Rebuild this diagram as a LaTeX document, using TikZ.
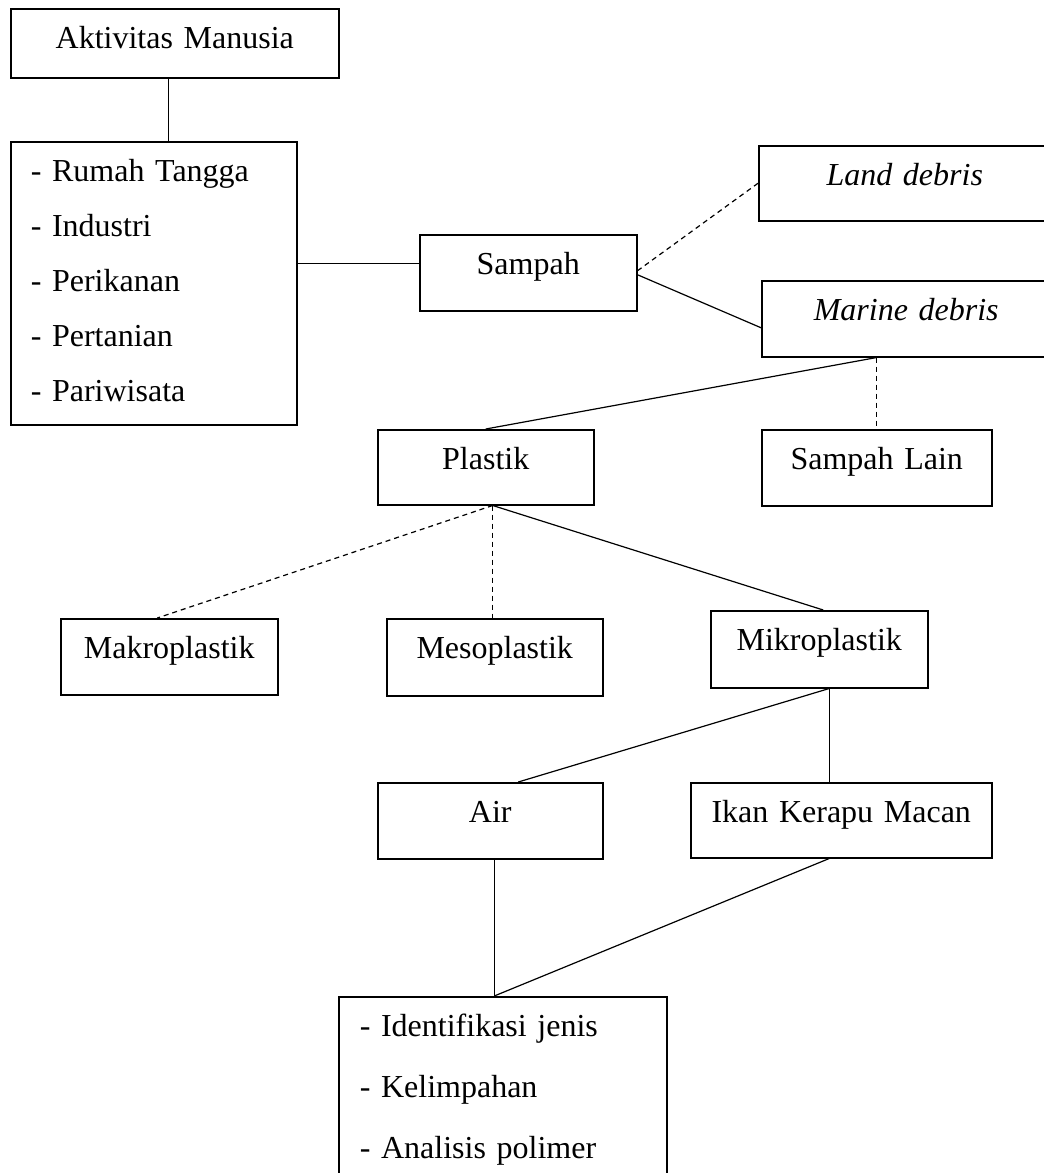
\documentclass[tikz,border=0pt]{standalone}
\usepackage{fontspec}
\setmainfont{Liberation Serif}
\usetikzlibrary{positioning}

\begin{document}
\begin{tikzpicture}[x=0.5pt, y=-0.5pt,
        kotak/.style={draw, line width=0.75pt, anchor=north west, inner xsep=0pt, inner ysep=0pt,
            align=center, text height=20pt, font=\fontsize{16pt}{19pt}\selectfont},
        daftar/.style={kotak, align=left, inner xsep=10pt, font=\fontsize{16pt}{27.5pt}\selectfont},
        garis/.style={line width=0.6pt},
        putus/.style={line width=0.6pt, dash pattern=on 2.5pt off 2pt}]
        \useasboundingbox (0,0) rectangle (1044,1173);
        \node[kotak, text width=164pt, text depth=14.5pt] (akt) at (10,8) {Aktivitas Manusia};
        \node[daftar, text width=123pt, text depth=121.5pt] (keg) at (10,141)
            {- Rumah Tangga\\- Industri\\- Perikanan\\- Pertanian\\- Pariwisata};
        \node[kotak, text width=108.5pt, text depth=18pt] (sampah) at (419,234) {Sampah};
        \node[kotak, text width=146pt, text depth=17.5pt] (land) at (758,145) {\textit{Land debris}};
        \node[kotak, text width=144.5pt, text depth=18pt] (marine) at (761,280) {\textit{Marine debris}};
        \node[kotak, text width=108pt, text depth=17.5pt] (plastik) at (377,429) {Plastik};
        \node[kotak, text width=115pt, text depth=18pt] (lain) at (761,429) {Sampah Lain};
        \node[kotak, text width=108.5pt, text depth=18pt] (makro) at (60,618) {Makroplastik};
        \node[kotak, text width=108pt, text depth=18.5pt] (meso) at (386,618) {Mesoplastik};
        \node[kotak, text width=108.5pt, text depth=18.5pt] (mikro) at (710,610) {Mikroplastik};
        \node[kotak, text width=112.5pt, text depth=18pt] (air) at (377,782) {Air};
        \node[kotak, text width=150.5pt, text depth=17.5pt] (ikan) at (690,782) {Ikan Kerapu Macan};
        \node[daftar, text width=143pt, inner xsep=10.5pt, text depth=77pt,
            font=\fontsize{16pt}{30.5pt}\selectfont] (hasil) at (338,996)
            {- Identifikasi jenis\\- Kelimpahan\\- Analisis polimer};

        % sumber sampah
        \draw[garis] ([xshift=-3pt]akt.south) -- ([xshift=-3pt]akt.south |- keg.north);
        \draw[garis] ([yshift=4.5pt]sampah.west -| keg.east) -- ([yshift=4.5pt]sampah.west);
        \draw[putus] ([yshift=1pt]sampah.east) -- (land.west);
        \draw[garis] ([yshift=-1pt]sampah.east) -- ([yshift=-4.5pt]marine.west);
        % jenis sampah
        \draw[garis] (lain.north |- marine.south) -- (plastik.north);
        \draw[putus] (lain.north |- marine.south) -- (lain.north);
        \draw[putus] ([xshift=3.5pt]plastik.south) -- ([xshift=-6pt]makro.north);
        \draw[putus] ([xshift=3.5pt]plastik.south) -- ([xshift=3.5pt]plastik.south |- meso.north);
        \draw[garis] ([xshift=3.5pt]plastik.south) -- ([xshift=2pt]mikro.north);
        % mikroplastik
        \draw[garis] ([xshift=5pt]mikro.south) -- ([xshift=14pt]air.north);
        \draw[garis] ([xshift=5pt]mikro.south) -- ([xshift=5pt]mikro.south |- ikan.north);
        \draw[garis] ([xshift=2pt]air.south) -- ([xshift=2pt]air.south |- hasil.north);
        \draw[garis] ([xshift=-6pt]ikan.south) -- ([xshift=2pt]air.south |- hasil.north);
\end{tikzpicture}
\end{document}
